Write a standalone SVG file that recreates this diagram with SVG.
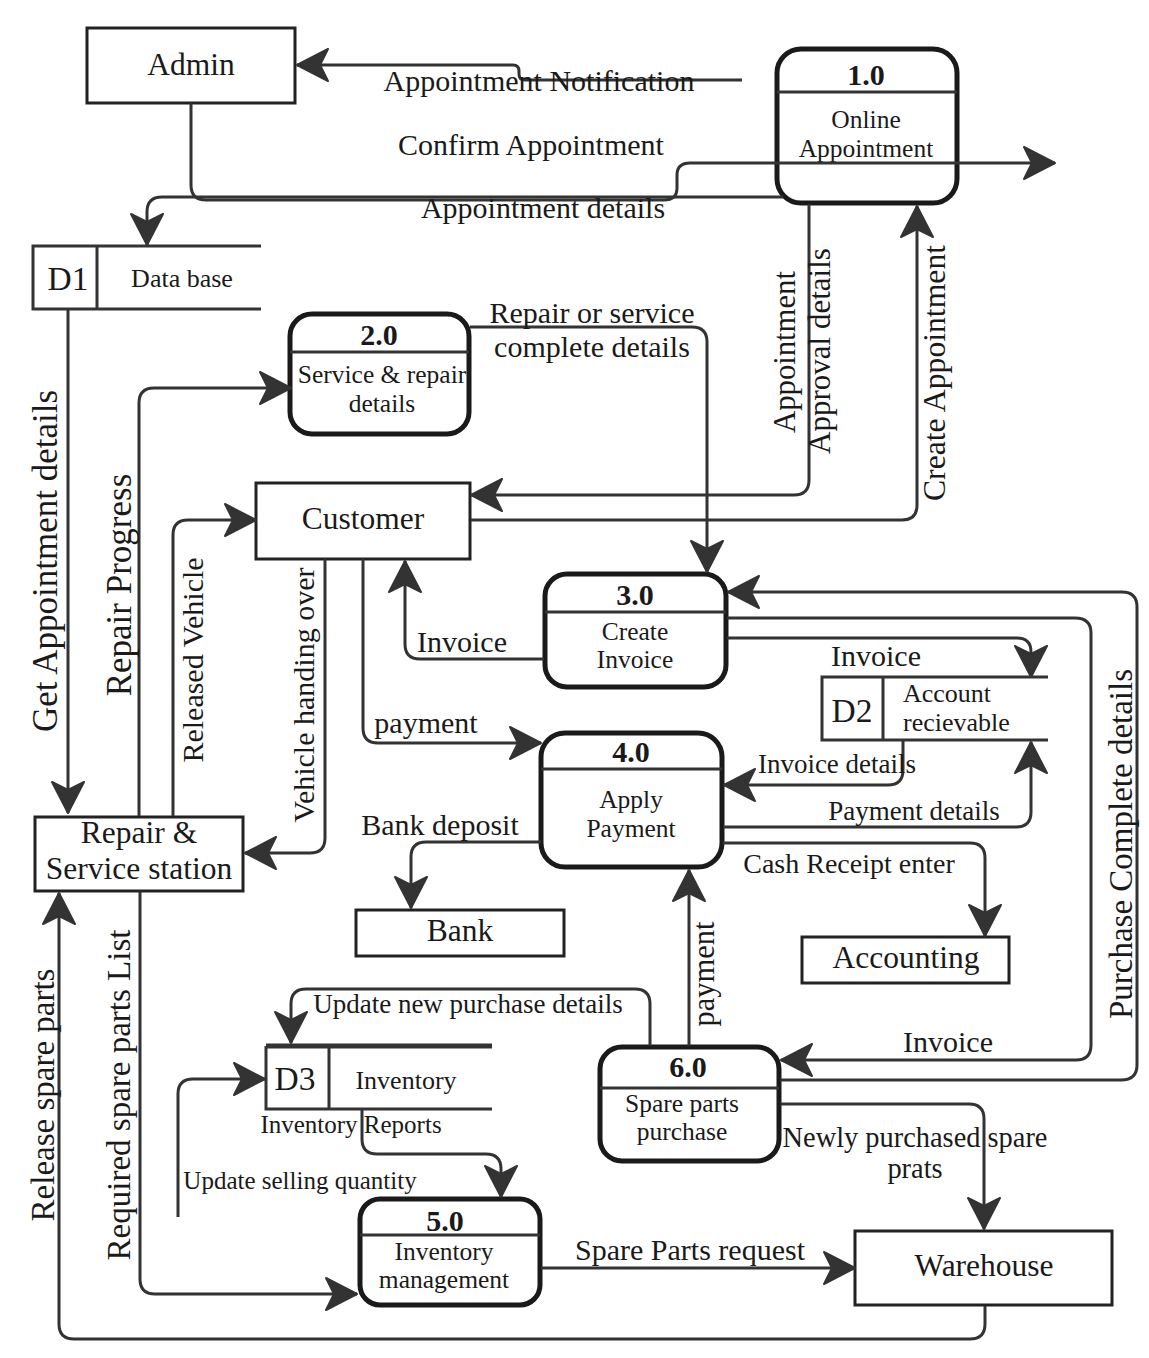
<svg xmlns="http://www.w3.org/2000/svg" width="1149" height="1358" viewBox="0 0 1149 1358">
<defs>
<marker id="arr" viewBox="-36 -20 40 40" refX="0" refY="0" markerWidth="40" markerHeight="40" markerUnits="userSpaceOnUse" orient="auto">
<path d="M0,0 L-31,-16 L-23,0 L-31,16 Z" fill="#333" stroke="#333" stroke-width="2" stroke-linejoin="round"/>
</marker>
<style>
text{font-family:"Liberation Serif","Times New Roman",serif;fill:#1a1a1a;text-anchor:middle}
.ent{fill:#fff;stroke:#222;stroke-width:3}
.et{font-size:31.5px}
.proc{fill:#fff;stroke:#1a1a1a;stroke-width:5}
.div{stroke:#333;stroke-width:3}
.num{font-size:30px;font-weight:bold}
.pt{font-size:25.5px}
.st{stroke:#333;stroke-width:3;fill:none}
.sid{font-size:33.5px}
.sn{font-size:26px}
.c path{fill:none;stroke:#333;stroke-width:3;marker-end:url(#arr)}
.l{font-size:30px}
.s{font-size:27px}
</style>
</defs>
<rect width="1149" height="1358" fill="#fff"/>

<g id="admin">
<rect class="ent" x="87" y="28" width="208" height="75"/>
<text class="et" x="191" y="75">Admin</text>
</g>
<g id="customer">
<rect class="ent" x="256" y="483" width="214" height="76"/>
<text class="et" x="363" y="529">Customer</text>
</g>
<g id="repair-station">
<rect class="ent" x="35" y="817" width="208" height="74"/>
<text class="et" x="139" y="843">Repair &amp;</text>
<text class="et" x="139" y="879">Service station</text>
</g>
<g id="bank">
<rect class="ent" x="356" y="910" width="208" height="46"/>
<text class="et" x="460" y="941">Bank</text>
</g>
<g id="accounting">
<rect class="ent" x="802" y="937" width="207" height="46"/>
<text class="et" x="906" y="968">Accounting</text>
</g>
<g id="warehouse">
<rect class="ent" x="855" y="1231" width="257" height="74"/>
<text class="et" x="984" y="1276">Warehouse</text>
</g>

<g id="p1">
<rect class="proc" x="777" y="49" width="180" height="154" rx="24"/>
<line class="div" x1="777" y1="92" x2="957" y2="92"/>
<text class="num" x="866" y="85">1.0</text>
<text class="pt" x="866" y="128">Online</text>
<text class="pt" x="866" y="157">Appointment</text>
</g>
<g id="p2">
<rect class="proc" x="290" y="314" width="179" height="120" rx="22"/>
<line class="div" x1="290" y1="352" x2="469" y2="352"/>
<text class="num" x="379" y="345">2.0</text>
<text class="pt" x="382" y="383">Service &amp; repair</text>
<text class="pt" x="382" y="412">details</text>
</g>
<g id="p3">
<rect class="proc" x="545" y="574" width="181" height="113" rx="22"/>
<line class="div" x1="545" y1="612" x2="726" y2="612"/>
<text class="num" x="635" y="605">3.0</text>
<text class="pt" x="635" y="640">Create</text>
<text class="pt" x="635" y="668">Invoice</text>
</g>
<g id="p4">
<rect class="proc" x="541" y="733" width="181" height="134" rx="24"/>
<line class="div" x1="541" y1="769" x2="722" y2="769"/>
<text class="num" x="631" y="762">4.0</text>
<text class="pt" x="631" y="808">Apply</text>
<text class="pt" x="631" y="837">Payment</text>
</g>
<g id="p5">
<rect class="proc" x="360" y="1199" width="180" height="106" rx="20"/>
<line class="div" x1="360" y1="1235" x2="540" y2="1235"/>
<text class="num" x="445" y="1231">5.0</text>
<text class="pt" x="444" y="1260">Inventory</text>
<text class="pt" x="444" y="1288">management</text>
</g>
<g id="p6">
<rect class="proc" x="600" y="1047" width="179" height="114" rx="22"/>
<line class="div" x1="600" y1="1088" x2="779" y2="1088"/>
<text class="num" x="688" y="1077">6.0</text>
<text class="pt" x="682" y="1112">Spare parts</text>
<text class="pt" x="682" y="1140">purchase</text>
</g>

<g id="d1">
<path class="st" d="M261,246 H33 V309 H261 M97,246 V309"/>
<text class="sid" x="68" y="290">D1</text>
<text class="sn" x="182" y="287">Data base</text>
</g>
<g id="d2">
<path class="st" d="M1048,677 H822 V740 H1048 M883,677 V740"/>
<text class="sid" x="852" y="722">D2</text>
<text class="sn" x="903" y="702" style="text-anchor:start">Account</text>
<text class="sn" x="903" y="731" style="text-anchor:start">recievable</text>
</g>
<g id="d3">
<path class="st" d="M266,1046 V1109 H492 M329,1046 V1109"/>
<line x1="266" y1="1046" x2="492" y2="1046" stroke="#333" stroke-width="5"/>
<text class="sid" x="295" y="1090">D3</text>
<text class="sn" x="406" y="1089">Inventory</text>
</g>

<g id="connectors" class="c">
<path d="M742,80 H525 Q519,80 519,74 V71 Q519,65 513,65 H297"/>
<path d="M191,103 V185 Q191,200 206,200 H664 Q677,200 677,188 V175 Q677,163 690,163 H1055"/>
<path d="M783,197 H162 Q147,197 147,212 V245"/>
<path d="M68,309 V813"/>
<path d="M139,816 V403 Q139,388 154,388 H291"/>
<path d="M173,816 V535 Q173,520 188,520 H256"/>
<path d="M325,559 V838 Q325,853 310,853 H245"/>
<path d="M363,559 V728 Q363,743 378,743 H541"/>
<path d="M544,659 H420 Q405,659 405,644 V561"/>
<path d="M470,327 H692 Q707,327 707,342 V572"/>
<path d="M809,204 V480 Q809,495 794,495 H471"/>
<path d="M471,520 H902 Q917,520 917,505 V206"/>
<path d="M727,638 H1017 Q1031,638 1031,652 V677"/>
<path d="M903,740 V770 Q903,785 888,785 H724"/>
<path d="M723,827 H1016 Q1031,827 1031,812 V742"/>
<path d="M541,842 H426 Q411,842 411,857 V908"/>
<path d="M723,843 H970 Q985,843 985,858 V936"/>
<path d="M727,618 H1075 Q1091,618 1091,633 V1045 Q1091,1060 1076,1060 H781"/>
<path d="M780,1080 H1121 Q1137,1080 1137,1065 V607 Q1137,592 1122,592 H728"/>
<path d="M689,1046 V870"/>
<path d="M650,1046 V1004 Q650,989 635,989 H306 Q291,989 291,1004 V1043"/>
<path d="M178,1217 V1094 Q178,1079 193,1079 H265"/>
<path d="M362,1109 V1139 Q362,1154 377,1154 H486 Q501,1154 501,1169 V1197"/>
<path d="M140,892 V1279 Q140,1294 155,1294 H357"/>
<path d="M541,1268 H855"/>
<path d="M780,1104 H969 Q984,1104 984,1119 V1229"/>
<path d="M985,1306 V1324 Q985,1339 970,1339 H74 Q59,1339 59,1324 V893"/>
</g>

<g id="labels">
<text class="l" x="539" y="91">Appointment Notification</text>
<text class="l" x="531" y="155">Confirm Appointment</text>
<text class="l" x="543" y="218">Appointment details</text>
<text class="l" x="592" y="323">Repair or service</text>
<text class="l" x="592" y="357">complete details</text>
<text class="l" x="462" y="652">Invoice</text>
<text class="l" x="426" y="733">payment</text>
<text class="l" x="876" y="666">Invoice</text>
<text class="s" x="837" y="773">Invoice details</text>
<text class="s" x="914" y="820">Payment details</text>
<text class="l" x="440" y="835">Bank deposit</text>
<text class="s" x="849" y="873" style="font-size:28px">Cash Receipt enter</text>
<text class="l" x="948" y="1052">Invoice</text>
<text class="s" x="468" y="1013">Update new purchase details</text>
<text class="s" x="351" y="1133" style="font-size:25px">Inventory Reports</text>
<text class="s" x="300" y="1189" style="font-size:25px">Update selling quantity</text>
<text class="l" x="690" y="1260">Spare Parts request</text>
<text class="s" x="915" y="1147" style="font-size:28.4px">Newly purchased spare</text>
<text class="s" x="915" y="1178" style="font-size:28.4px">prats</text>
<text transform="translate(57,561) rotate(-90)" style="font-size:35px">Get Appointment details</text>
<text transform="translate(131,585) rotate(-90)" style="font-size:35px">Repair Progress</text>
<text transform="translate(203,660) rotate(-90)" style="font-size:30px">Released Vehicle</text>
<text transform="translate(314,695) rotate(-90)" style="font-size:30px">Vehicle handing over</text>
<text transform="translate(795,352) rotate(-90)" style="font-size:30.7px">Appointment</text>
<text transform="translate(830,351) rotate(-90)" style="font-size:31px">Approval details</text>
<text transform="translate(945,373) rotate(-90)" style="font-size:31.7px">Create Appointment</text>
<text transform="translate(1132,844) rotate(-90)" style="font-size:33px">Purchase Complete details</text>
<text transform="translate(54,1095) rotate(-90)" style="font-size:33px">Release spare parts</text>
<text transform="translate(130,1095) rotate(-90)" style="font-size:33px">Required spare parts List</text>
<text transform="translate(714,974) rotate(-90)" style="font-size:30.5px">payment</text>
</g>
</svg>
